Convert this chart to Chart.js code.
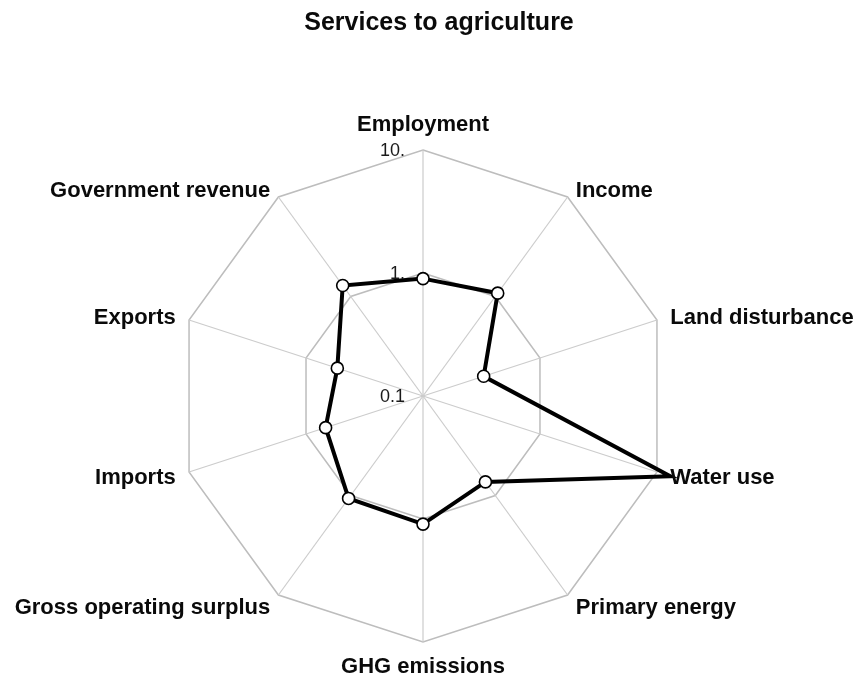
<!DOCTYPE html>
<html>
<head>
<meta charset="utf-8">
<script src="https://cdn.jsdelivr.net/npm/chart.js@4/dist/chart.umd.min.js"></script>
<style>
  html, body { margin: 0; padding: 0; background: #ffffff; }
  #wrap { width: 857px; height: 686px; }
  canvas { display: block; }
</style>
</head>
<body>
<div id="wrap"><canvas id="c" width="857" height="686"></canvas></div>
<script>
const chartTitle = "Services to agriculture";
const categories = ["Employment", "Income", "Land disturbance", "Water use", "Primary energy",
  "GHG emissions", "Gross operating surplus", "Imports", "Exports", "Government revenue"];
const values = [0.9, 1.08, 0.33, 13, 0.73, 1.1, 1.07, 0.68, 0.54, 1.29];
const tickValues = [0.1, 1, 10];
const tickLabels = ["0.1", "1.", "10."];

// log scale emulated on the radial linear scale
const logBase = Math.log10(tickValues[0]);
const toPos = v => Math.log10(v) - logBase;
const scaleMax = toPos(tickValues[tickValues.length - 1]);

const FONT = "'Liberation Sans', Arial, Helvetica, sans-serif";

const labelPlugin = {
  id: 'labelPlugin',
  afterDraw(chart) {
    const ctx = chart.ctx;
    const r = chart.scales.r;
    ctx.save();
    // title
    ctx.fillStyle = '#0a0a0a';
    ctx.font = 'bold 25px ' + FONT;
    ctx.textAlign = 'center';
    ctx.textBaseline = 'alphabetic';
    ctx.fillText(chartTitle, 439, 30);

    // tick labels
    ctx.font = '18px ' + FONT;
    ctx.textAlign = 'right';
    ctx.textBaseline = 'middle';
    ctx.fillStyle = '#1a1a1a';
    tickValues.forEach((t, i) => {
      const d = r.getDistanceFromCenterForValue(toPos(t));
      ctx.fillText(tickLabels[i], r.xCenter - 18, r.yCenter - d + 1);
    });

    // point labels
    ctx.font = 'bold 22px ' + FONT;
    ctx.fillStyle = '#0a0a0a';
    const n = categories.length;
    categories.forEach((lab, i) => {
      const p = r.getPointPosition(i, r.drawingArea + 14);
      const ang = i * 2 * Math.PI / n;
      const s = Math.sin(ang), c = Math.cos(ang);
      let y = p.y;
      if (Math.abs(s) < 1e-6) {
        ctx.textAlign = 'center';
        ctx.textBaseline = c > 0 ? 'bottom' : 'top';
      } else {
        ctx.textAlign = s > 0 ? 'left' : 'right';
        ctx.textBaseline = 'middle';
        y += c > 0.5 ? 5 : 2;
      }
      ctx.fillText(lab, p.x, y);
    });
    ctx.restore();
  }
};

new Chart(document.getElementById('c'), {
  type: 'radar',
  data: {
    labels: categories,
    datasets: [{
      data: values.map(toPos),
      borderColor: '#000000',
      borderWidth: 4,
      fill: false,
      tension: 0,
      clip: false,
      pointBackgroundColor: '#ffffff',
      pointBorderColor: '#000000',
      pointBorderWidth: 1.6,
      pointRadius: ctx => (ctx.raw > scaleMax ? 0 : 6),
      pointHoverRadius: ctx => (ctx.raw > scaleMax ? 0 : 6)
    }]
  },
  options: {
    responsive: false,
    animation: false,
    devicePixelRatio: 1,
    layout: { padding: { left: 177, right: 188, top: 150, bottom: 44 } },
    plugins: {
      legend: { display: false },
      title: { display: false },
      tooltip: { enabled: false }
    },
    scales: {
      r: {
        min: 0,
        max: scaleMax,
        ticks: { display: false, stepSize: 1 },
        pointLabels: { display: false },
        grid: { color: '#bdbdbd', lineWidth: 1.5 },
        angleLines: { color: '#cccccc', lineWidth: 1.2 }
      }
    }
  },
  plugins: [labelPlugin]
});
</script>
</body>
</html>
